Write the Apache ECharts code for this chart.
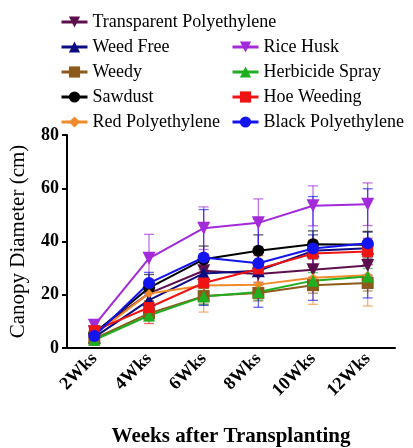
<!DOCTYPE html>
<html><head><meta charset="utf-8">
<script src="https://cdn.jsdelivr.net/npm/echarts@6/dist/echarts.min.js"></script>
<style>html,body{margin:0;padding:0;background:#fff}#c{width:413px;height:448px}</style>
</head><body><div id="c"></div>
<script>
const categories = ['2Wks','4Wks','6Wks','8Wks','10Wks','12Wks'];
const yTicks = [0,20,40,60,80];

const transparentPoly = [6, 20.5, 29, 27.8, 29.4, 31];
const weedFree        = [4, 18, 28, 29, 36.5, 37.5];
const weedy           = [3.5, 13, 19.5, 20.7, 23.6, 24.4];
const sawdust         = [5.5, 22.6, 33.3, 36.5, 39, 38.8];
const redPoly         = [5, 20.5, 23.5, 23.8, 26.4, 27.3];
const riceHusk        = [8.5, 33.7, 45, 47, 53.4, 54];
const herbicide       = [3, 12.2, 19.3, 21, 25.3, 26.9];
const hoeWeeding      = [6.5, 15.2, 24.4, 29.7, 35.5, 36.2];
const blackPoly       = [4.5, 24.4, 34, 31.8, 37.4, 39.3];

const sdTransparentPoly = [1, 3, 4, 4, 4, 4];
const sdWeedFree        = [1, 4, 7, 7, 6, 6];
const sdWeedy           = [1, 2, 3, 3, 3, 3];
const sdSawdust         = [1, 5, 5, 6, 5, 5];
const sdRedPoly         = [1, 3, 10, 4, 10, 11.5];
const sdRiceHusk        = [2, 9, 8, 9, 7.5, 8];
const sdHerbicide       = [1, 2, 3, 3, 3, 3];
const sdHoeWeeding      = [1.5, 6, 5, 5, 5, 5];
const sdBlackPoly       = [1.5, 4, 18, 16.5, 19.5, 20.5];

const defs = [
  {name:'Transparent Polyethylene', data:transparentPoly, sd:sdTransparentPoly, color:'#5c0f4e', symbol:'triangle', rot:180, size:13},
  {name:'Weed Free', data:weedFree, sd:sdWeedFree, color:'#0c0c82', symbol:'triangle', rot:0, size:13},
  {name:'Weedy', data:weedy, sd:sdWeedy, color:'#8c5a1a', symbol:'rect', rot:0, size:12},
  {name:'Sawdust', data:sawdust, sd:sdSawdust, color:'#000000', symbol:'circle', rot:0, size:12},
  {name:'Red Polyethylene', data:redPoly, sd:sdRedPoly, color:'#f08a2a', symbol:'diamond', rot:0, size:9},
  {name:'Rice Husk', data:riceHusk, sd:sdRiceHusk, color:'#a22ad8', symbol:'triangle', rot:180, size:13},
  {name:'Herbicide Spray', data:herbicide, sd:sdHerbicide, color:'#1fae1f', symbol:'triangle', rot:0, size:12},
  {name:'Hoe Weeding', data:hoeWeeding, sd:sdHoeWeeding, color:'#ee1414', symbol:'rect', rot:0, size:11},
  {name:'Black Polyethylene', data:blackPoly, sd:sdBlackPoly, color:'#1414ee', symbol:'circle', rot:0, size:12}
];

const serif = '"Liberation Serif", "Times New Roman", serif';
const series = [];
defs.forEach(d => {
  series.push({
    name: d.name + ' SD', type: 'custom', z: 1, silent: true,
    data: d.data.map((v,i) => [i, v - d.sd[i], v + d.sd[i]]),
    renderItem: (params, api) => {
      const lo = api.coord([api.value(0), api.value(1)]);
      const hi = api.coord([api.value(0), api.value(2)]);
      const w = 5;
      const st = {stroke: d.color, lineWidth: 1.3, opacity: 0.65};
      return {type:'group', children:[
        {type:'line', shape:{x1:lo[0], y1:lo[1], x2:hi[0], y2:hi[1]}, style:st},
        {type:'line', shape:{x1:lo[0]-w, y1:lo[1], x2:lo[0]+w, y2:lo[1]}, style:st},
        {type:'line', shape:{x1:hi[0]-w, y1:hi[1], x2:hi[0]+w, y2:hi[1]}, style:st}
      ]};
    }
  });
  series.push({
    name: d.name, type: 'line', z: 3, data: d.data,
    symbol: d.symbol, symbolRotate: d.rot, symbolSize: d.size,
    lineStyle: {color: d.color, width: 2},
    itemStyle: {color: d.color},
    animation: false
  });
});

const legendText = {fontFamily: serif, fontSize: 18, color: '#000'};
const chart = echarts.init(document.getElementById('c'));
chart.setOption({
  animation: false,
  backgroundColor: '#fff',
  legend: [
    {orient:'vertical', left: 55, top: 8, itemWidth: 26, itemHeight: 14, itemGap: 7,
     lineStyle: {width: 3},
     data: ['Transparent Polyethylene','Weed Free','Weedy','Sawdust','Red Polyethylene'], textStyle: legendText},
    {orient:'vertical', left: 226, top: 33, itemWidth: 26, itemHeight: 14, itemGap: 7,
     lineStyle: {width: 3},
     data: ['Rice Husk','Herbicide Spray','Hoe Weeding','Black Polyethylene'], textStyle: legendText}
  ],
  grid: {left: 65, right: 18, top: 135, bottom: 97, containLabel: false},
  xAxis: {
    type: 'category', data: categories, boundaryGap: true,
    axisLine: {lineStyle: {color: '#000', width: 2}},
    axisTick: {alignWithLabel: true, length: 5, lineStyle: {color: '#000', width: 2}},
    axisLabel: {rotate: 45, fontFamily: serif, fontWeight: 'bold', fontSize: 18, color: '#000', margin: 8},
    name: 'Weeks after Transplanting', nameLocation: 'middle', nameGap: 78,
    nameTextStyle: {fontFamily: serif, fontWeight: 'bold', fontSize: 21, color: '#000'}
  },
  yAxis: {
    type: 'value', min: yTicks[0], max: yTicks[yTicks.length-1], interval: 20,
    axisLine: {show: true, lineStyle: {color: '#000', width: 2}},
    axisTick: {show: true, length: 5, lineStyle: {color: '#000', width: 2}},
    splitLine: {show: false},
    axisLabel: {fontFamily: serif, fontWeight: 'bold', fontSize: 18, color: '#000', margin: 8},
    name: 'Canopy Diameter (cm)', nameLocation: 'middle', nameGap: 38,
    nameTextStyle: {fontFamily: serif, fontSize: 21, color: '#000'}
  },
  series: series
});
</script></body></html>
